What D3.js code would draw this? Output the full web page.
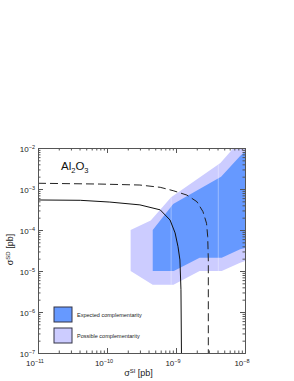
<!DOCTYPE html>
<html>
<head>
<meta charset="utf-8">
<script src="https://cdn.jsdelivr.net/npm/d3@7"></script>
<style>
  body { margin: 0; background: #fff; }
  svg { display: block; font-family: "Liberation Sans", Arial, sans-serif; }
</style>
</head>
<body>
<svg id="chart" width="294" height="381"></svg>
<script>
// sigma_SD vs sigma_SI complementarity, Al2O3

// major decades on each axis
const xDecades = [-11, -10, -9, -8];
const yDecades = [-7, -6, -5, -4, -3, -2];

// limit curves [sigmaSI, sigmaSD]
const solidCurve = [
  [1e-11, 5.4e-4], [4.1e-11, 5.3e-4], [1.1e-10, 4.8e-4], [3.0e-10, 4.1e-4],
  [5.9e-10, 3.1e-4], [8.2e-10, 1.75e-4], [9.7e-10, 8.5e-5], [1.07e-9, 3.9e-5],
  [1.14e-9, 1.86e-5], [1.18e-9, 3.5e-6], [1.2e-9, 1e-7]
];
const dashedCurve = [
  [1e-11, 1.38e-3], [7.9e-11, 1.32e-3], [3.0e-10, 1.25e-3], [5.9e-10, 1.1e-3],
  [9.1e-10, 9.1e-4], [1.44e-9, 7.1e-4], [2.01e-9, 4.9e-4], [2.46e-9, 2.8e-4],
  [2.77e-9, 1.46e-4], [2.88e-9, 6.9e-5], [2.94e-9, 1.86e-5], [2.94e-9, 1e-7]
];

// shaded regions [sigmaSI, sigmaSD]
const possibleRegion = [
  [2.2e-10, 1.0e-4], [4.3e-10, 1.7e-4], [8.5e-10, 6.3e-4], [4.4e-9, 4.3e-3],
  [7e-9, 1.05e-2], [1.5e-8, 2e-2], [1.5e-8, 2.2e-5], [8.5e-9, 1.6e-5],
  [4.6e-9, 1.0e-5], [2.2e-9, 1.0e-5], [9.2e-10, 4.6e-6], [4.6e-10, 4.6e-6],
  [2.2e-10, 1.0e-5]
];
const expectedRegion = [
  [4.6e-10, 1.0e-4], [9.1e-10, 4.3e-4], [4.5e-9, 2.0e-3], [8.5e-9, 6.4e-3],
  [1.5e-8, 1.5e-2], [1.5e-8, 4.3e-5], [8.5e-9, 3.4e-5], [4.6e-9, 2.1e-5],
  [2.2e-9, 2.1e-5], [9.3e-10, 1.0e-5], [4.6e-10, 1.0e-5]
];
const seamX = [8.5e-10, 4.1e-9];

const legendItems = ["Expected complementarity", "Possible complementarity"];
const legendColors = ["#6699ff", "#ccccff"];

const svg = d3.select("#chart");
const margin = { left: 38, right: 49, top: 148, bottom: 28 };
const width = 294 - margin.left - margin.right;
const height = 381 - margin.top - margin.bottom;

const x = d3.scaleLog().domain([1e-11, 1e-8]).range([0, width]);
const y = d3.scaleLog().domain([1e-7, 1e-2]).range([height, 0]);

const g = svg.append("g").attr("transform", `translate(${margin.left},${margin.top})`);

const defs = svg.append("defs");
defs.append("clipPath").attr("id", "frame")
  .append("rect").attr("width", width).attr("height", height);

const area = d3.line().x(d => x(d[0])).y(d => y(d[1]));

defs.append("clipPath").attr("id", "possclip")
  .append("path").attr("d", area(possibleRegion) + "Z");

const plot = g.append("g").attr("clip-path", "url(#frame)");

plot.append("path")
  .attr("d", area(possibleRegion) + "Z")
  .attr("fill", legendColors[1]);
plot.append("path")
  .attr("d", area(expectedRegion) + "Z")
  .attr("fill", legendColors[0]);

// faint seams inside shading
plot.append("g").attr("clip-path", "url(#possclip)")
  .selectAll("line").data(seamX).join("line")
  .attr("x1", d => x(d)).attr("x2", d => x(d))
  .attr("y1", 0).attr("y2", height)
  .attr("stroke", "#fff").attr("stroke-opacity", 0.45).attr("stroke-width", 0.8);

plot.append("path")
  .attr("d", area(solidCurve))
  .attr("fill", "none").attr("stroke", "#111").attr("stroke-width", 1);
plot.append("path")
  .attr("d", area(dashedCurve))
  .attr("fill", "none").attr("stroke", "#222").attr("stroke-width", 1)
  .attr("stroke-dasharray", "8,4");

// ticks (inside, on all four sides)
const xMajor = xDecades.map(d => Math.pow(10, d));
const yMajor = yDecades.map(d => Math.pow(10, d));
const xMinor = [], yMinor = [];
xDecades.slice(0, -1).forEach(d => { for (let k = 2; k <= 9; k++) xMinor.push(k * Math.pow(10, d)); });
yDecades.slice(0, -1).forEach(d => { for (let k = 2; k <= 9; k++) yMinor.push(k * Math.pow(10, d)); });

function styleAxis(sel) {
  sel.select(".domain").attr("stroke", "#555");
  sel.selectAll(".tick line").attr("stroke", "#555");
  sel.selectAll("text").remove();
}

[[xMajor, 5], [xMinor, 2.5]].forEach(([vals, len]) => {
  g.append("g").attr("transform", `translate(0,${height})`)
    .call(d3.axisBottom(x).tickValues(vals).tickSizeInner(-len).tickSizeOuter(0))
    .call(styleAxis);
  g.append("g")
    .call(d3.axisTop(x).tickValues(vals).tickSizeInner(-len).tickSizeOuter(0))
    .call(styleAxis);
});
[[yMajor, 5], [yMinor, 2.5]].forEach(([vals, len]) => {
  g.append("g")
    .call(d3.axisLeft(y).tickValues(vals).tickSizeInner(-len).tickSizeOuter(0))
    .call(styleAxis);
  g.append("g").attr("transform", `translate(${width},0)`)
    .call(d3.axisRight(y).tickValues(vals).tickSizeInner(-len).tickSizeOuter(0))
    .call(styleAxis);
});

// tick labels 10^n
function powLabel(sel, exp) {
  sel.append("tspan").text("10");
  sel.append("tspan").attr("dy", -3.5).attr("font-size", "5.5px").text(String(exp).replace("-", "\u2212"));
}
g.selectAll(".xl").data(xDecades).join("text")
  .attr("class", "xl")
  .attr("x", d => x(Math.pow(10, d)) - 3)
  .attr("y", height + 13)
  .attr("text-anchor", "middle")
  .attr("font-size", "8px").attr("fill", "#222")
  .each(function(d) { powLabel(d3.select(this), d); });
g.selectAll(".yl").data(yDecades).join("text")
  .attr("class", "yl")
  .attr("x", -3)
  .attr("y", d => y(Math.pow(10, d)) + 4)
  .attr("text-anchor", "end")
  .attr("font-size", "8px").attr("fill", "#222")
  .each(function(d) { powLabel(d3.select(this), d); });

// axis titles
const xt = g.append("text")
  .attr("x", width / 2 - 3).attr("y", height + 23)
  .attr("text-anchor", "middle").attr("font-size", "9px").attr("fill", "#222");
xt.append("tspan").text("\u03c3");
xt.append("tspan").attr("dy", -3.5).attr("font-size", "6px").text("SI");
xt.append("tspan").attr("dy", 3.5).text(" [pb]");

const yt = g.append("text")
  .attr("transform", `translate(-25,${height / 2 - 1}) rotate(-90)`)
  .attr("text-anchor", "middle").attr("font-size", "9px").attr("fill", "#222");
yt.append("tspan").text("\u03c3");
yt.append("tspan").attr("dy", -3.5).attr("font-size", "6px").text("SD");
yt.append("tspan").attr("dy", 3.5).text(" [pb]");

// material label
const mat = g.append("text").attr("x", 23).attr("y", 22)
  .attr("font-size", "11.5px").attr("fill", "#111");
mat.append("tspan").text("Al");
mat.append("tspan").attr("dy", 3).attr("font-size", "7.5px").text("2");
mat.append("tspan").attr("dy", -3).text("O");
mat.append("tspan").attr("dy", 3).attr("font-size", "7.5px").text("3");

// legend
const leg = g.selectAll(".leg").data(legendItems).join("g")
  .attr("class", "leg")
  .attr("transform", (d, i) => `translate(16,${159 + i * 21})`);
leg.append("rect")
  .attr("width", 18).attr("height", 15)
  .attr("fill", (d, i) => legendColors[i])
  .attr("stroke", "#334", "stroke-width", 1);
leg.append("text")
  .attr("x", 23).attr("y", 9.5)
  .attr("font-size", "5.5px").attr("fill", "#222")
  .text(d => d);
</script>
</body>
</html>
